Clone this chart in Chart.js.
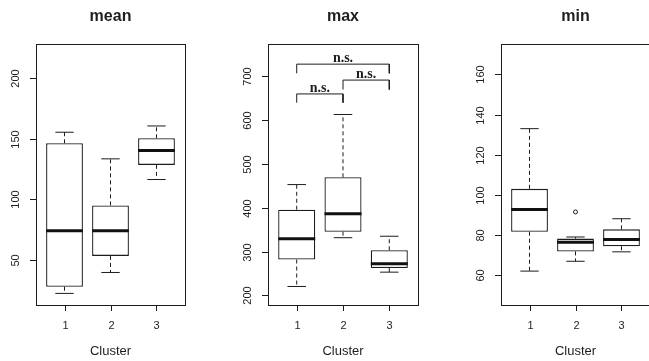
<!DOCTYPE html>
<html>
<head>
<meta charset="utf-8">
<script src="https://cdn.jsdelivr.net/npm/chart.js@4/dist/chart.umd.min.js"></script>
<style>
    html, body { margin: 0; padding: 0; background: #fff; overflow: hidden; }
    body { width: 649px; height: 361px; position: relative; }
    .panel { position: absolute; top: 0; }
</style>
</head>
<body>
<div class="panel" style="left:0px"><canvas id="meanChart" width="216" height="361"></canvas></div>
<div class="panel" style="left:216px"><canvas id="maxChart" width="216" height="361"></canvas></div>
<div class="panel" style="left:432px"><canvas id="minChart" width="222" height="361"></canvas></div>
<script>
// clusters on the x axis
const clusters = [1, 2, 3];
const clusterLabels = ['1', '2', '3'];

// panel "mean": whisker ends, quartiles, medians
const meanLow = [22, 39.3, 116.2];
const meanQ1 = [27.5, 53, 128.3];
const meanMedian = [73.9, 73.9, 140.1];
const meanQ3 = [146.2, 94.8, 150.3];
const meanHigh = [155.3, 133.3, 160.5];
const meanTicks = [50, 100, 150, 200];

// panel "max"
const maxLow = [220.3, 331.7, 253];
const maxQ1 = [281.8, 345.3, 262.4];
const maxMedian = [329.4, 386.3, 272];
const maxQ3 = [395.4, 469.6, 303];
const maxHigh = [453, 613, 335];
const maxTicks = [200, 300, 400, 500, 600, 700];

// significance brackets in the "max" panel
const bracketFrom = [1, 2, 1];
const bracketTo = [2, 3, 3];
const bracketTop = [660, 691.6, 728];
const bracketLeg = [640, 670, 707];
const bracketText = ['n.s.', 'n.s.', 'n.s.'];

// panel "min"
const minLow = [62, 66.9, 71.6];
const minQ1 = [81.6, 71.8, 74.4];
const minMedian = [92.7, 76.4, 77.7];
const minQ3 = [103, 78.2, 82.8];
const minHigh = [133, 79, 88.1];
const minOutlierX = [2];
const minOutlierY = [91.5];
const minTicks = [60, 80, 100, 120, 140, 160];

const ink = '#1c1c1c';
const textInk = '#1e1e1e';
const sans = '"Liberation Sans", Arial, Helvetica, sans-serif';

// half of a width given in x units, in pixels
function halfWidth(chart, units) {
    const x = chart.scales.x;
    const w = Math.abs(x.getPixelForValue(units) - x.getPixelForValue(0));
    return isFinite(w) && w > 0 ? w : 8;
}

function whiskerPoints(low, q1, q3, high) {
    const pts = [];
    clusters.forEach((c, i) => {
        pts.push({ x: c, y: q3[i] }, { x: c, y: high[i] }, { x: c, y: null });
        pts.push({ x: c, y: q1[i] }, { x: c, y: low[i] }, { x: c, y: null });
    });
    return pts;
}

// frame, ticks, tick labels, titles in the style of base R graphics
const rFrame = {
    id: 'rFrame',
    afterDraw(chart, args, opts) {
        const { ctx, chartArea: a, scales: { x, y } } = chart;
        ctx.save();
        ctx.strokeStyle = ink;
        ctx.lineWidth = 1;
        ctx.strokeRect(a.left + 0.5, a.top + 0.5, a.right - a.left, a.bottom - a.top);

        ctx.fillStyle = textInk;
        ctx.font = '11px ' + sans;
        ctx.textAlign = 'center';
        ctx.textBaseline = 'middle';
        opts.yTicks.forEach(v => {
            const py = Math.round(y.getPixelForValue(v)) + 0.5;
            ctx.beginPath();
            ctx.moveTo(a.left - 6, py);
            ctx.lineTo(a.left + 0.5, py);
            ctx.stroke();
            ctx.save();
            ctx.translate(a.left - 20, py);
            ctx.rotate(-Math.PI / 2);
            ctx.fillText(String(v), 0, 0);
            ctx.restore();
        });

        clusters.forEach((c, i) => {
            const px = Math.round(x.getPixelForValue(c)) + 0.5;
            ctx.beginPath();
            ctx.moveTo(px, a.bottom);
            ctx.lineTo(px, a.bottom + 6);
            ctx.stroke();
            ctx.fillText(clusterLabels[i], px, a.bottom + 21);
        });

        const cx = (a.left + a.right) / 2;
        ctx.font = '13px ' + sans;
        ctx.fillText('Cluster', cx, a.bottom + 46);
        ctx.font = 'bold 16px ' + sans;
        ctx.fillText(opts.title, cx, 17);

        if (opts.brackets) {
            ctx.font = 'bold 14px "Liberation Serif", "Times New Roman", serif';
            ctx.textBaseline = 'alphabetic';
            bracketFrom.forEach((f, i) => {
                const px = (x.getPixelForValue(f) + x.getPixelForValue(bracketTo[i])) / 2;
                ctx.fillText(bracketText[i], px, y.getPixelForValue(bracketTop[i]) - 2);
            });
        }
        ctx.restore();
    }
};

function makePanel(id, title, low, q1, median, q3, high, yMin, yMax, yTicks, extra) {
    const datasets = [
        {
            type: 'bar',
            data: clusters.map((c, i) => ({ x: c, y: [q1[i], q3[i]] })),
            backgroundColor: '#ffffff',
            borderColor: ink,
            borderWidth: 1.3,
            borderSkipped: false,
            categoryPercentage: 0.8,
            barPercentage: 1.0,
            order: 3
        },
        {
            type: 'line',
            data: whiskerPoints(low, q1, q3, high),
            borderColor: ink,
            borderWidth: 1,
            borderDash: [4, 3],
            pointRadius: 0,
            spanGaps: false,
            tension: 0,
            order: 2
        },
        {
            type: 'scatter',
            data: clusters.flatMap((c, i) => [{ x: c, y: low[i] }, { x: c, y: high[i] }]),
            pointStyle: 'line',
            pointRadius: ctx => halfWidth(ctx.chart, 0.2),
            pointBorderColor: ink,
            pointBorderWidth: 1,
            order: 1
        },
        {
            type: 'scatter',
            data: clusters.map((c, i) => ({ x: c, y: median[i] })),
            pointStyle: 'line',
            pointRadius: ctx => halfWidth(ctx.chart, 0.4),
            pointBorderColor: '#111111',
            pointBorderWidth: 3,
            order: 0
        }
    ].concat(extra.datasets || []);

    new Chart(document.getElementById(id), {
        type: 'bar',
        data: { datasets },
        options: {
            responsive: false,
            animation: false,
            events: [],
            layout: { autoPadding: false, padding: extra.padding },
            plugins: {
                legend: { display: false },
                tooltip: { enabled: false },
                rFrame: { title, yTicks, brackets: !!extra.brackets }
            },
            scales: {
                x: {
                    type: 'linear', display: false, offset: false, min: 0.38, max: 3.62,
                    grid: { offset: false },
                    afterBuildTicks: s => { s.ticks = clusters.map(v => ({ value: v })); }
                },
                y: { type: 'linear', display: false, min: yMin, max: yMax }
            }
        },
        plugins: [rFrame]
    });
}

makePanel('meanChart', 'mean', meanLow, meanQ1, meanMedian, meanQ3, meanHigh,
    12.4, 228.3, meanTicks,
    { padding: { left: 36, right: 31, top: 44, bottom: 56 } });

const bracketPoints = [];
bracketFrom.forEach((f, i) => {
    bracketPoints.push(
        { x: f, y: bracketLeg[i] }, { x: f, y: bracketTop[i] },
        { x: bracketTo[i], y: bracketTop[i] }, { x: bracketTo[i], y: bracketLeg[i] },
        { x: bracketTo[i], y: null });
});

makePanel('maxChart', 'max', maxLow, maxQ1, maxMedian, maxQ3, maxHigh,
    178, 774, maxTicks,
    {
        padding: { left: 52, right: 14, top: 44, bottom: 56 },
        brackets: true,
        datasets: [{
            type: 'line',
            data: bracketPoints,
            borderColor: ink,
            borderWidth: 1,
            pointRadius: 0,
            spanGaps: false,
            tension: 0,
            order: 1
        }]
    });

makePanel('minChart', 'min', minLow, minQ1, minMedian, minQ3, minHigh,
    45.1, 175.2, minTicks,
    {
        padding: { left: 69, right: 4, top: 44, bottom: 56 },
        datasets: [{
            type: 'scatter',
            data: minOutlierX.map((v, i) => ({ x: v, y: minOutlierY[i] })),
            pointStyle: 'circle',
            pointRadius: 2,
            pointBackgroundColor: '#ffffff',
            pointBorderColor: ink,
            pointBorderWidth: 1,
            order: 1
        }]
    });
</script>
</body>
</html>
